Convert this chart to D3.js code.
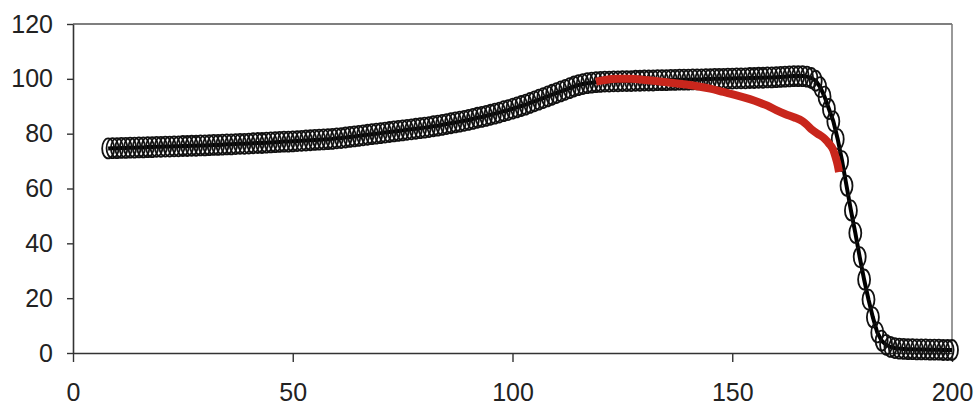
<!DOCTYPE html>
<html>
<head>
<meta charset="utf-8">
<script src="https://cdn.jsdelivr.net/npm/d3@7"></script>
<style>
  html, body { margin: 0; padding: 0; background: #fff; }
  svg { display: block; }
  text { font-family: "Liberation Sans", Arial, sans-serif; fill: #222; }
</style>
</head>
<body>
<svg id="chart" width="979" height="410"></svg>
<script>
// ---- data ----
const xStart = 8; // first x of the circle series (step 1)
const circleValues = [
  74.6, 74.7, 74.7, 74.8, 74.8, 74.9, 74.9, 75.0, 75.0, 75.1, 75.1, 75.2, 75.2,
  75.3, 75.3, 75.4, 75.4, 75.5, 75.5, 75.6, 75.6, 75.7, 75.7, 75.8, 75.9, 75.9, 76.0, 76.1, 76.1, 76.2, 76.3, 76.3, 76.4,
  76.5, 76.6, 76.6, 76.7, 76.8, 76.9, 77.0, 77.1, 77.1, 77.2, 77.3, 77.4, 77.5, 77.6, 77.7, 77.8, 77.9, 78.0, 78.1, 78.3,
  78.4, 78.6, 78.8, 79.0, 79.2, 79.4, 79.6, 79.8, 80.0, 80.2, 80.4, 80.6, 80.8, 81.0, 81.2, 81.4, 81.6, 81.8, 82.0, 82.2,
  82.4, 82.7, 82.9, 83.2, 83.5, 83.8, 84.1, 84.4, 84.7, 85.0, 85.4, 85.8, 86.1, 86.5, 86.9, 87.3, 87.7, 88.2, 88.6, 89.1,
  89.6, 90.1, 90.6, 91.2, 91.8, 92.4, 93.0, 93.6, 94.2, 94.8, 95.4, 96.0, 96.6, 97.2, 97.7, 98.1, 98.4, 98.6, 98.8, 98.9,
  99.0, 99.0, 99.1, 99.1, 99.2, 99.2, 99.2, 99.3, 99.3, 99.4, 99.4, 99.4, 99.5, 99.5, 99.5, 99.6, 99.6, 99.7, 99.7, 99.7,
  99.8, 99.8, 99.8, 99.9, 99.9, 100.0, 100.0, 100.0, 100.1, 100.1, 100.2, 100.2, 100.2, 100.3, 100.3, 100.4, 100.4, 100.5, 100.5, 100.6,
  100.7, 100.8, 100.9, 101.0, 101.0, 101.0, 100.8, 100.3, 99.3, 97.0, 93.5, 89.0, 84.5, 78.0, 70.0, 61.0, 52.0, 43.8, 35.0, 26.8,
  19.5, 13.0, 7.5, 4.5, 3.0, 2.2, 1.8, 1.6, 1.5, 1.4, 1.4, 1.3, 1.3, 1.3, 1.2, 1.2, 1.2, 1.1, 1.1, 1.1
];
const redX = [119, 121, 124, 127, 130, 133, 136, 139, 142, 145, 148, 151, 154, 156, 158, 160, 162, 164, 166, 167, 168, 169, 170, 171, 172, 173, 173.5, 174, 174.3];
const redY = [99.0, 99.6, 100.0, 100.0, 99.6, 99.1, 98.6, 98.0, 97.3, 96.4, 95.2, 94.0, 92.6, 91.5, 90.2, 88.6, 87.2, 86.0, 84.5, 83.2, 81.6, 80.4, 79.4, 78.2, 76.4, 74.0, 71.5, 68.5, 66.0];
const xTicks = [0, 50, 100, 150, 200];
const yTicks = [0, 20, 40, 60, 80, 100, 120];

// ---- layout ----
const svg = d3.select("#chart");
const mLeft = 73, mRight = 952, mTop = 24, mBottom = 353;
const x = d3.scaleLinear().domain([0, 200]).range([mLeft, mRight]);
const y = d3.scaleLinear().domain([0, 120]).range([mBottom, mTop]);

const circleData = circleValues.map((v, i) => ({x: xStart + i, y: v}));
const redData = redX.map((v, i) => ({x: v, y: redY[i]}));

// frame (top & right)
svg.append("line").attr("x1", mLeft).attr("x2", mRight).attr("y1", mTop).attr("y2", mTop)
  .attr("stroke", "#555").attr("stroke-width", 1.5);
svg.append("line").attr("x1", mRight).attr("x2", mRight).attr("y1", mTop).attr("y2", mBottom)
  .attr("stroke", "#777").attr("stroke-width", 1.5);

// axes
const xAxis = d3.axisBottom(x).tickValues(xTicks).tickSize(9).tickSizeOuter(0).tickPadding(0);
const gx = svg.append("g").attr("transform", `translate(0,${mBottom})`).call(xAxis);
gx.select(".domain").attr("stroke", "#333").attr("stroke-width", 1.6);
gx.selectAll(".tick line").attr("stroke", "#333").attr("stroke-width", 1.4);
gx.selectAll(".tick text").attr("y", 30).attr("font-size", 25)
  .style("font-family", "'Liberation Sans', Arial, sans-serif").attr("fill", "#222");

const yAxis = d3.axisLeft(y).tickValues(yTicks).tickSize(6).tickSizeOuter(0).tickPadding(14);
const gy = svg.append("g").attr("transform", `translate(${mLeft},0)`).call(yAxis);
gy.select(".domain").attr("stroke", "#333").attr("stroke-width", 1.6);
gy.selectAll(".tick line").attr("stroke", "#333").attr("stroke-width", 1.4);
gy.selectAll(".tick text").attr("font-size", 25)
  .style("font-family", "'Liberation Sans', Arial, sans-serif").attr("fill", "#222");

// black line through data
const line = d3.line().x(d => x(d.x)).y(d => y(d.y));
svg.append("path").datum(circleData).attr("d", line)
  .attr("fill", "none").attr("stroke", "#000").attr("stroke-width", 4);

// open markers
svg.append("g").selectAll("ellipse").data(circleData).join("ellipse")
  .attr("cx", d => x(d.x)).attr("cy", d => y(d.y))
  .attr("rx", 6).attr("ry", 10)
  .attr("fill", "none").attr("stroke", "#111").attr("stroke-width", 1.8);

// red line
const redLine = d3.line().x(d => x(d.x)).y(d => y(d.y)).curve(d3.curveMonotoneX);
svg.append("path").datum(redData).attr("d", redLine)
  .attr("fill", "none").attr("stroke", "#c8261c").attr("stroke-width", 8)
  .attr("stroke-linejoin", "round");
</script>
</body>
</html>
